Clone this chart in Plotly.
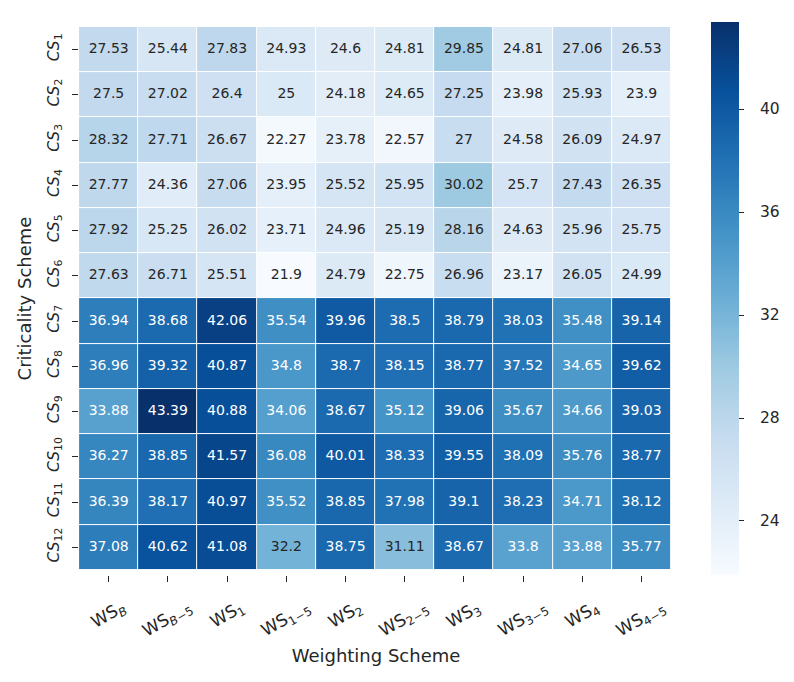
import plotly.graph_objects as go
import plotly.colors as pc

rows = ["CS1", "CS2", "CS3", "CS4", "CS5", "CS6", "CS7", "CS8", "CS9", "CS10", "CS11", "CS12"]
row_labels = ["<i>CS</i><sub>%s</sub>" % r[2:] for r in rows]
cols = ["WS_B", "WS_B-5", "WS_1", "WS_1-5", "WS_2", "WS_2-5", "WS_3", "WS_3-5", "WS_4", "WS_4-5"]
col_labels = ["WS<sub><i>B</i></sub>", "WS<sub><i>B</i>−5</sub>", "WS<sub>1</sub>", "WS<sub>1−5</sub>",
              "WS<sub>2</sub>", "WS<sub>2−5</sub>", "WS<sub>3</sub>", "WS<sub>3−5</sub>",
              "WS<sub>4</sub>", "WS<sub>4−5</sub>"]

values = [
    [27.53, 25.44, 27.83, 24.93, 24.6, 24.81, 29.85, 24.81, 27.06, 26.53],
    [27.5, 27.02, 26.4, 25, 24.18, 24.65, 27.25, 23.98, 25.93, 23.9],
    [28.32, 27.71, 26.67, 22.27, 23.78, 22.57, 27, 24.58, 26.09, 24.97],
    [27.77, 24.36, 27.06, 23.95, 25.52, 25.95, 30.02, 25.7, 27.43, 26.35],
    [27.92, 25.25, 26.02, 23.71, 24.96, 25.19, 28.16, 24.63, 25.96, 25.75],
    [27.63, 26.71, 25.51, 21.9, 24.79, 22.75, 26.96, 23.17, 26.05, 24.99],
    [36.94, 38.68, 42.06, 35.54, 39.96, 38.5, 38.79, 38.03, 35.48, 39.14],
    [36.96, 39.32, 40.87, 34.8, 38.7, 38.15, 38.77, 37.52, 34.65, 39.62],
    [33.88, 43.39, 40.88, 34.06, 38.67, 35.12, 39.06, 35.67, 34.66, 39.03],
    [36.27, 38.85, 41.57, 36.08, 40.01, 38.33, 39.55, 38.09, 35.76, 38.77],
    [36.39, 38.17, 40.97, 35.52, 38.85, 37.98, 39.1, 38.23, 34.71, 38.12],
    [37.08, 40.62, 41.08, 32.2, 38.75, 31.11, 38.67, 33.8, 33.88, 35.77],
]

cbar_ticks = [24, 28, 32, 36, 40]

flat = [v for r in values for v in r]
vmin, vmax = min(flat), max(flat)

FONT = "DejaVu Sans"
DARK = "#262626"

fig = go.Figure()
fig.add_trace(go.Heatmap(
    z=values, x=col_labels, y=row_labels,
    colorscale=pc.sequential.Blues, zmin=vmin, zmax=vmax,
    xgap=1, ygap=1, hoverinfo="skip",
    colorbar=dict(
        thickness=28, len=1.0, lenmode="fraction", y=0.5, yanchor="middle",
        x=1.064, xanchor="left", xpad=0, ypad=0,
        tickvals=cbar_ticks, ticks="outside", ticklen=5, tickwidth=1, tickcolor=DARK,
        showticklabels=False, outlinewidth=0,
    ),
))

tx, ty, tt, tc = [], [], [], []
for i, r in enumerate(values):
    for j, v in enumerate(r):
        tx.append(col_labels[j]); ty.append(row_labels[i])
        tt.append("{:g}".format(v))
        tc.append("white" if v > 33 else DARK)
fig.add_trace(go.Scatter(x=tx, y=ty, text=tt, mode="text",
                         textfont=dict(family=FONT, size=14, color=tc),
                         hoverinfo="skip", showlegend=False))

# x tick labels, rotated about their centre like the reference
for lab in col_labels:
    fig.add_annotation(x=lab, y=0, xref="x", yref="paper", text=lab, showarrow=False,
                       textangle=-30, xanchor="center", yanchor="top", yshift=-19,
                       font=dict(family=FONT, size=17, color=DARK))

# colour bar tick labels, placed on the colour scale (bar spans the full plot height)
for t in cbar_ticks:
    fig.add_annotation(x=1.143, y=(t - vmin) / (vmax - vmin), xref="paper", yref="paper",
                       text=str(t), showarrow=False, xanchor="left", yanchor="middle",
                       font=dict(family=FONT, size=15.5, color=DARK))

fig.update_layout(
    width=794, height=682,
    margin=dict(l=79, r=121, t=22, b=107),
    paper_bgcolor="white", plot_bgcolor="white",
    font=dict(family=FONT, color=DARK),
    showlegend=False,
)
fig.update_xaxes(
    type="category", categoryorder="array", categoryarray=col_labels,
    showticklabels=False, ticks="outside", ticklen=6, tickwidth=1, tickcolor=DARK,
    showgrid=False, zeroline=False, showline=False, automargin=False,
    title=dict(text="Weighting Scheme", font=dict(family=FONT, size=18, color=DARK), standoff=68),
)
fig.update_yaxes(
    type="category", categoryorder="array", categoryarray=row_labels, autorange="reversed",
    tickangle=-90, ticks="outside", ticklen=6, tickwidth=1, tickcolor=DARK,
    ticklabelstandoff=7,
    tickfont=dict(family=FONT, size=15.5, color=DARK), showgrid=False, zeroline=False, showline=False,
    automargin=False,
    title=dict(text="Criticality Scheme", font=dict(family=FONT, size=18, color=DARK), standoff=8),
)

fig.write_html("out.html")
